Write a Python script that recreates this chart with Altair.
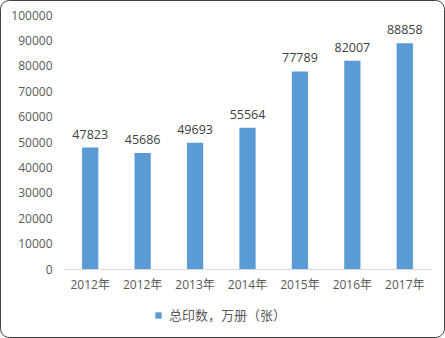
import json
import altair as alt
import pandas as pd

labels = ["2012年", "2012年", "2013年", "2014年", "2015年", "2016年", "2017年"]
values = [47823, 45686, 49693, 55564, 77789, 82007, 88858]
series = "总印数，万册（张）"

df = pd.DataFrame({"idx": list(range(len(labels))), "label": labels, "value": values, "series": [series] * len(labels)})

W, H = 367, 254
PL, PT, PR, PB = 64, 15, 14, 69
FONT = "Open Sans, Noto Sans CJK SC"
CJK = "Noto Sans CJK SC"
TXT = "#595959"

label_expr = json.dumps(labels, ensure_ascii=False) + "[datum.value]"

x = alt.X("idx:O", title=None,
          scale=alt.Scale(paddingInner=0.69, paddingOuter=0.345),
          axis=alt.Axis(labelExpr=label_expr, labelAngle=0, ticks=False, domainColor="#d9d9d9",
                        labelPadding=10, labelFont=FONT, labelFontSize=12, labelColor=TXT, grid=False))
y = alt.Y("value:Q", title=None,
          scale=alt.Scale(domain=[0, 100000], nice=False),
          axis=alt.Axis(values=list(range(0, 100001, 10000)), format="d", labelOverlap=False,
                        labelFlush=False, ticks=False, domain=False, grid=False,
                        labelPadding=12, labelFont=FONT, labelFontSize=12, labelColor=TXT))

bars = alt.Chart(df).mark_bar(color="#5b9bd5").encode(
    x=x, y=y,
    color=alt.Color("series:N", scale=alt.Scale(range=["#5b9bd5"]),
                    legend=alt.Legend(title=None, orient="none", legendX=88, legendY=294,
                                      symbolType="square", symbolSize=40, labelFont=CJK,
                                      labelFontSize=13, labelColor=TXT, symbolStrokeWidth=0, labelOffset=4)),
)
text = alt.Chart(df).mark_text(baseline="alphabetic", dy=-9, font=FONT, fontSize=12.5, color="#404040").encode(
    x=x, y=y, text="value:Q")

border = alt.Chart(pd.DataFrame({"a": [0]})).mark_rect(
    fill=None, stroke="#3f3f3f", strokeWidth=1, cornerRadius=9, clip=False).encode(
    x=alt.value(-PL + 0.5), x2=alt.value(W + PR - 0.5),
    y=alt.value(-PT + 0.5), y2=alt.value(H + PB - 0.5))

chart = alt.layer(bars, text, border).properties(
    width=W, height=H,
    padding={"left": PL, "top": PT, "right": PR, "bottom": PB},
    autosize=alt.AutoSizeParams(type="none"),
    background="white",
).configure_view(stroke=None)

chart.save("out.html", embed_options={"renderer": "svg", "actions": False})
